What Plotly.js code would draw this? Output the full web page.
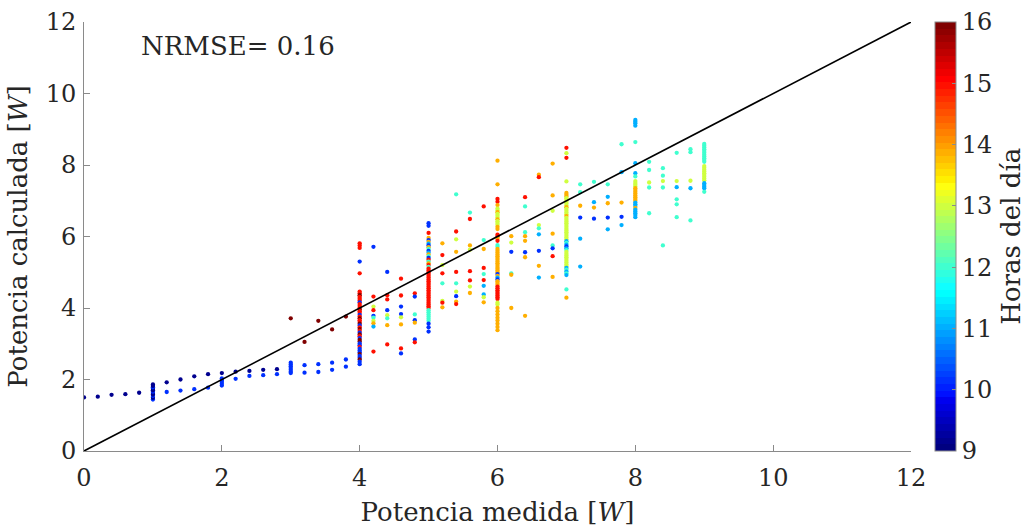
<!DOCTYPE html>
<html>
<head>
<meta charset="utf-8">
<script src="https://cdn.plot.ly/plotly-3.0.1.min.js"></script>
<style>html,body{margin:0;padding:0;background:#fff}#chart{width:1026px;height:529px}</style>
</head>
<body>
<div id="chart"></div>
<script>
// ---- data ----
// measured power positions (one column of points per value)
const potenciaMedida = [0, 0.2, 0.4, 0.6, 0.8, 1.0, 1.2, 1.4, 1.6, 1.8, 2.0, 2.2, 2.4, 2.6, 2.8,
  3.0, 3.2, 3.4, 3.6, 3.8, 4.0, 4.2, 4.4, 4.6, 4.8, 5.0, 5.2, 5.4, 5.6, 5.8, 6.0,
  6.2, 6.4, 6.6, 6.8, 7.0, 7.2, 7.4, 7.6, 7.8, 8.0, 8.2, 8.4, 8.6, 8.8, 9.0];

// computed power for each column
const potenciaCalculada = [
  [1.50], [1.52], [1.57], [1.59], [1.63],
  [1.44,1.49,1.54,1.58,1.62,1.66,1.70,1.74,1.78,1.82,1.86],
  [1.92,1.65], [2.00,1.69], [2.09,1.73], [2.15,1.77],
  [2.18,2.03,1.98,1.93,1.88,1.83],
  [2.22,2.02], [2.24,2.10], [2.27,2.12], [2.29,2.15],
  [3.71,2.47,2.42,2.37,2.32,2.27,2.22,2.18],
  [3.05,2.40,2.19], [3.64,2.43,2.21], [3.40,2.47,2.27], [3.76,2.56,2.36],
  [5.81,5.75,5.68,5.30,4.97,
   4.46,4.41,4.36,4.31,4.26,4.21,4.16,4.11,4.06,4.01,3.96,3.91,3.86,3.81,3.76,3.71,3.66,
   3.61,3.56,3.51,3.46,3.41,3.36,3.31,3.26,3.21,3.16,3.11,3.06,3.01,2.96,2.91,2.86,2.81,2.76,2.71,2.66,2.61,2.56,2.50,2.43],
  [5.71,4.32,4.04,3.94,3.78,3.73,3.64,3.57,3.48,2.78],
  [5.01,4.36,4.24,3.94,3.80,3.71,3.52,2.98],
  [4.82,4.35,4.04,3.83,3.74,3.54,2.87,2.73],
  [4.41,4.32,3.82,3.66,3.59,3.12,3.04],
  [6.37,6.30,6.10,
   5.96,5.90,5.85,5.80,5.75,5.70,5.65,5.60,5.55,5.50,5.45,5.40,5.35,5.30,5.25,5.20,5.15,5.10,
   5.05,5.00,4.95,4.90,4.85,4.80,4.75,4.70,4.65,4.60,4.55,4.50,4.45,4.40,4.35,4.30,4.25,4.20,4.15,4.10,4.05,4.00,
   3.94,3.88,3.82,3.76,3.70,3.64, 3.56,3.46,3.34],
  [5.81,5.48,5.20,4.97,4.69,4.20,4.15,4.02],
  [7.18,6.14,5.92,5.57,5.01,4.69,4.46,4.33,4.18,4.11],
  [6.67,6.49,5.75,5.63,5.03,4.77,4.60,4.42],
  [6.84,5.90,5.65,5.12,4.95,4.78,4.62,4.38,4.30,4.16],
  [8.12,7.46,7.05,6.97,6.88,
   6.78,6.73,6.68,6.63,6.58,6.53,6.48,6.43,6.38,6.33,
   6.27,6.21, 6.05,6.00, 5.94,5.88, 5.76,5.71,
   5.65,5.60,5.55,5.50,5.45,5.40,5.35,5.30,5.25,5.20,5.15,5.10,5.05,5.00,4.95,4.90,4.85,4.80,4.75,4.70,4.65,
   4.60,4.55,4.50,4.45,4.40,4.35,4.30,4.25,
   4.15,4.10,
   4.00,3.91,3.82,3.73,3.65,3.56,3.47,3.38],
  [6.01,5.83,5.57,4.97,4.93,4.00],
  [7.10,6.84,6.12,6.01,5.88,5.56,5.42,3.78],
  [7.73,7.66,6.32,6.23,6.06,5.60,5.18,4.85],
  [8.04,7.15,6.72,6.08,5.75,5.67,5.45,4.87],
  [8.48,8.33,8.20,7.54, 7.22,7.17,7.12,
   7.07,7.02,6.97,6.92,6.87,6.82,6.77,6.72,6.67,6.62,6.57,6.52,6.47,6.42,6.37,6.32,6.27,6.22,6.17,6.12,6.07,6.02,5.97,5.92,
   5.87,5.82,5.77,5.72,5.67,5.62,
   5.57,5.52,5.47,5.42,5.37,5.32,5.27,5.22,5.17,
   5.12,5.07,5.02,4.97,4.92,
   4.52,4.29],
  [7.46,7.24,6.86,6.53,5.94,5.16],
  [7.53,6.96,6.81,6.50],
  [7.46,7.11,6.93,6.53,6.20],
  [8.58,7.80,6.95,6.55,6.32],
  [9.26,9.21,9.17,9.10,8.64,8.05,7.77,7.68,
   7.55,7.50,7.45,7.40,
   7.35,7.30,7.25,7.20,7.15,7.10,7.05,7.00,
   6.95,6.90,6.85,6.80,6.75,6.70,6.65,6.60,6.54],
  [8.09,7.86,7.51,7.37,6.65],
  [7.91,7.70,7.55,7.37,5.75],
  [8.34,7.55,7.38,7.04,6.90,6.54],
  [8.44,8.36,7.56,7.35,6.45],
  [8.59,8.54,8.49,8.44,8.39,8.34,8.29,8.24,8.19,8.14,8.09,
   7.97,7.92,7.87,7.82,7.77,7.72,7.67,7.62,7.57,
   7.49,7.44,7.39,7.35, 7.25]
];

// hour of the day for each point (colour)
const horaDelDia = [
  [9.2], [9.2], [9.2], [9.2], [9.2],
  [10.1,9.2,10.1,9.2,9.2,10.1,9.2,9.2,10.1,9.2,9.2],
  [9.2,10.1], [9.2,10.1], [9.2,10.1], [9.2,10.1],
  [9.2,10.1,10.1,10.1,10.1,10.1],
  [9.2,10.1], [9.2,10.1], [9.2,10.1], [9.2,10.1],
  [15.9,10.1,10.1,10.1,10.1,10.1,10.1,10.1],
  [15.9,10.1,10.1], [15.9,10.1,10.1], [15.9,10.1,10.1], [15.9,10.1,10.1],
  [15,15,15,10.1,15,
   15,15,15.9,15,15,15,10.1,15,15,15,15.9,15,15,10.1,15,15.9,15,
   15,15.9,10.1,15,15.9,15,10.1,15.9,15,10.1,15.9,15.9,10.1,10.1,15,10.1,10.1,10.1,15.9,10.1,10.1,15.9,10.1,10.1],
  [10.1,15,13,15,10.1,12,13,13.9,11,15],
  [10.1,15,15,10.1,13,12,13.9,15],
  [15,15,10.1,10.1,13,13.9,15,10.1],
  [15,10.1,12,10.1,13.9,10.1,15],
  [10.1,10.1,15,
   13.9,10.1,13.9,11,10.1,13.9,12,10.1,11,13.9,12,10.1,15,12,13.9,15,12,15,
   15,15,15,15,15,15,15,15,15,15,15,15,15,15,15,15,15,15,15,15,15,15,
   12,12,12,12,12,12, 10.1,10.1,10.1],
  [13.9,15,13,15,12,13,15,13.9],
  [12,15,13,13.9,15,12,13,10.1,13.9,15],
  [12,15,13.9,13,15,15,13,13.9],
  [15,12,13.9,15,12,15,11,11,13,13.9],
  [13.9,13.9,15,15,13.9,
   13,13,13.9,13,13,13,13.9,13,13,13,
   13.9,13.9, 15,15, 13.9,15, 12,12,
   13.9,13.9,13.9,13.9,13.9,13.9,13.9,13.9,13.9,13.9,13.9,13.9,13.9,13.9,10.1,13.9,11,10.1,13.9,13.9,13.9,
   15,15,15,15,15,15,15,15,
   13,13,
   13.9,13.9,13.9,13.9,13.9,13.9,13.9,13.9],
  [13.9,13,10.1,12,13.9,13.9],
  [15,12,12,13.9,13.9,10.1,13.9,13.9],
  [13.9,15,13,12,11,10.1,13.9,11],
  [13.9,13.9,13,13.9,12,10.1,15,13.9],
  [15,13,15,13, 13.9,13.9,13.9,
   13,13,13,13,13,13.9,13,13,13,13,13.9,13,13,13,13,13,13,13,13,13,13,13,13,13,
   11,12,11,10.1,11,12,
   13,13,13,13,13,13,13,13,13,
   11,12,11,12,11,
   12,13.9],
  [12,12,13.9,10.1,11,11],
  [12,11,13.9,10.1],
  [12,11,13.9,10.1,11],
  [12,11,13.9,10.1,11],
  [11,11,11,11,12,11,11,12,
   13,13,13,13,
   13.9,13.9,13.9,13.9,13.9,13.9,13.9,13.9,
   11,11,11,13.9,11,11,11,11,11],
  [12,12,13,12,12],
  [12,12,13,12,12],
  [12,13,11,12,12,12],
  [12,12,13,11,12],
  [12,12,12,12,12,12,12,12,12,12,12,
   13,13,13,13,13,13,13,13,13,
   11,11,11,11, 12]
];

const lineaIdeal = [0, 12];      // y = x reference line
const nrmse = 0.16;
const ticksEjes = [0, 2, 4, 6, 8, 10, 12];
const ticksHora = [9, 10, 11, 12, 13, 14, 15, 16];

// ---- build traces ----
const xs = [], ys = [], cs = [];
potenciaMedida.forEach((x, i) => {
  potenciaCalculada[i].forEach((y, j) => { xs.push(x); ys.push(y); cs.push(horaDelDia[i][j]); });
});

// MATLAB-style jet(64) colormap, discrete
function jet64() {
  const m = 64, n = 16, u = [];
  for (let k = 1; k <= n; k++) u.push(k / n);
  for (let k = 1; k < n; k++) u.push(1);
  for (let k = n; k >= 1; k--) u.push(k / n);
  const get = idx => (idx >= 1 && idx <= u.length) ? u[idx - 1] : 0;
  const cols = [];
  for (let i = 1; i <= m; i++) {
    const r = get(i - 24), g = get(i - 8), b = get(i + 7);
    cols.push(`rgb(${Math.round(r*255)},${Math.round(g*255)},${Math.round(b*255)})`);
  }
  const scale = [];
  cols.forEach((c, i) => { scale.push([i / m, c]); scale.push([(i + 1) / m, c]); });
  return scale;
}

const FONT = 'DejaVu Serif';
const TXT = '#262626';
const AX = '#8a8a8a';
const TICK_SIZE = 24;
const LABEL_SIZE = 26;

const puntos = {
  type: 'scatter', mode: 'markers', x: xs, y: ys,
  marker: {
    size: 4.3, color: cs, cmin: 9, cmax: 16, colorscale: jet64(), showscale: true,
    line: {width: 0},
    colorbar: {
      x: 1.029, xanchor: 'left', y: 0.5, yanchor: 'middle', len: 1, lenmode: 'fraction',
      thickness: 21, thicknessmode: 'pixels', xpad: 0, ypad: 0,
      outlinewidth: 1, outlinecolor: AX,
      ticks: 'inside', ticklen: 4, tickcolor: AX, tickvals: ticksHora,
      tickfont: {family: FONT, size: TICK_SIZE, color: TXT}
    }
  },
  hoverinfo: 'x+y', showlegend: false
};

const ideal = {
  type: 'scatter', mode: 'lines', x: lineaIdeal, y: lineaIdeal,
  line: {color: '#000', width: 1.6}, showlegend: false, hoverinfo: 'skip'
};

const axisBase = {
  range: [0, 12], tickvals: ticksEjes, showgrid: false, zeroline: false,
  showline: true, linecolor: AX, linewidth: 1, mirror: false,
  ticks: 'inside', ticklen: 6, tickcolor: AX, tickwidth: 1,
  tickfont: {family: FONT, size: TICK_SIZE, color: TXT}, fixedrange: true
};

const layout = {
  width: 1026, height: 529,
  margin: {l: 84, r: 115, t: 22, b: 78},
  paper_bgcolor: '#fff', plot_bgcolor: '#fff',
  font: {family: FONT, color: TXT},
  xaxis: Object.assign({}, axisBase, {
    ticklabelstandoff: 5,
    title: {text: 'Potencia medida [<i>W</i>]', font: {family: FONT, size: LABEL_SIZE, color: TXT}, standoff: 12}
  }),
  yaxis: Object.assign({}, axisBase, {
    ticklabelstandoff: 2,
    title: {text: 'Potencia calculada [<i>W</i>]', font: {family: FONT, size: LABEL_SIZE, color: TXT}, standoff: 10}
  }),
  annotations: [
    {xref: 'x', yref: 'y', x: 0.8, y: 11.33, xanchor: 'left', yanchor: 'middle', showarrow: false,
     text: 'NRMSE= ' + nrmse.toFixed(2), font: {family: FONT, size: LABEL_SIZE, color: TXT}},
    {xref: 'paper', yref: 'paper', x: 1.12, y: 0.5, xanchor: 'center', yanchor: 'middle', showarrow: false,
     textangle: -90, text: 'Horas del día', font: {family: FONT, size: LABEL_SIZE, color: TXT}}
  ]
};

Plotly.newPlot('chart', [puntos, ideal], layout, {displayModeBar: false, staticPlot: true});
</script>
</body>
</html>
